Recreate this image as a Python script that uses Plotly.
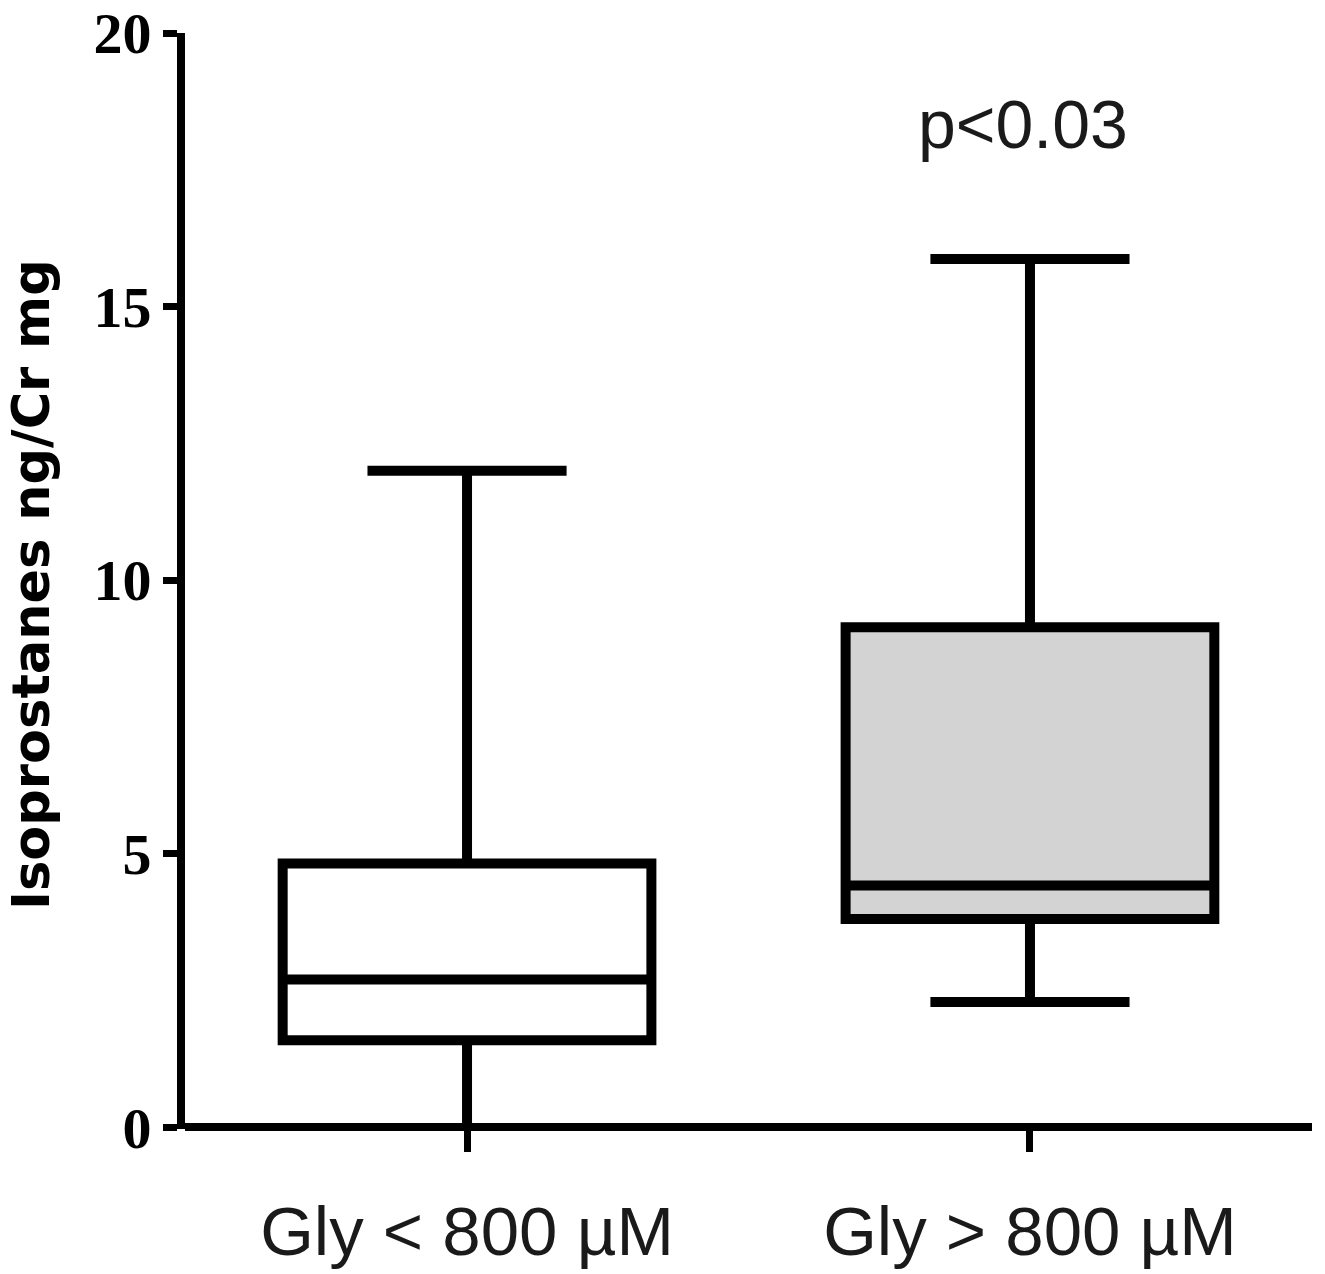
import plotly.graph_objects as go

categories = ["Gly < 800 µM", "Gly > 800 µM"]
q1 = [1.59, 3.81]
median = [2.70, 4.42]
q3 = [4.82, 9.14]
lower_whisker = [-0.1, 2.29]
upper_whisker = [12.0, 15.87]
fill_colors = ["#ffffff", "#d3d3d3"]
y_ticks = [0, 5, 10, 15, 20]
y_title = "Isoprostanes ng/Cr mg"
p_text = "p<0.03"

fig = go.Figure()
for i, cat in enumerate(categories):
    fig.add_trace(go.Box(
        x=[i],
        q1=[q1[i]], median=[median[i]], q3=[q3[i]],
        lowerfence=[lower_whisker[i]], upperfence=[upper_whisker[i]],
        fillcolor=fill_colors[i],
        line=dict(color="black", width=10),
        width=0.655,
        whiskerwidth=0.54,
        boxpoints=False,
        hoverinfo="skip",
        showlegend=False,
    ))

fig.update_layout(
    width=1325, height=1274,
    margin=dict(l=185, r=13, t=33, b=145),
    paper_bgcolor="white", plot_bgcolor="white",
    xaxis=dict(
        range=[-0.501, 1.501], automargin=False,
        tickmode="array", tickvals=[0, 1], ticktext=categories,
        showgrid=False, zeroline=False, showline=False,
        ticks="outside", ticklen=22, tickwidth=7, tickcolor="black",
        ticklabelstandoff=20,
        tickfont=dict(family="Liberation Sans", size=69, color="#1a1a1a"),
    ),
    yaxis=dict(
        range=[-0.03, 20], automargin=False,
        tickmode="array", tickvals=y_ticks,
        showgrid=False,
        zeroline=True, zerolinecolor="black", zerolinewidth=8,
        showline=True, linecolor="black", linewidth=8,
        ticks="outside", ticklen=14, tickwidth=7, tickcolor="black",
        tickfont=dict(family="Liberation Serif", size=58, color="black", weight="bold"),
    ),
    annotations=[
        dict(text=y_title, textangle=-90, xref="paper", yref="paper",
             x=-0.136, y=0.497, xanchor="center", yanchor="middle", showarrow=False,
             font=dict(family="DejaVu Sans", size=51, color="black", weight="bold")),
        dict(text=p_text, xref="paper", yref="paper",
             x=0.744, y=0.917, xanchor="center", yanchor="middle", showarrow=False,
             font=dict(family="Liberation Sans", size=68, color="#1a1a1a")),
    ],
)

fig.write_html("out.html")
